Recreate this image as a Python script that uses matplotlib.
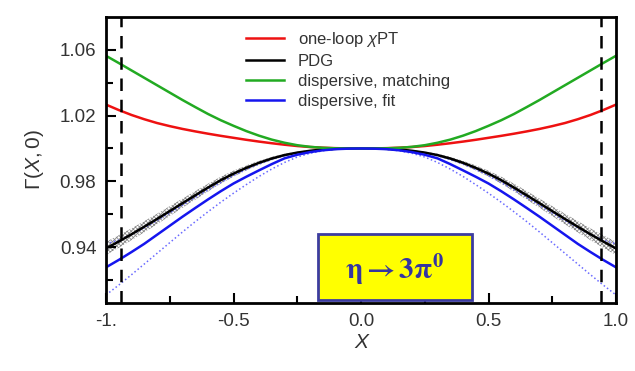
import numpy as np
import matplotlib.pyplot as plt
from matplotlib.patches import Rectangle

plt.rcParams['font.family'] = ['Liberation Sans', 'DejaVu Sans']
plt.rcParams['mathtext.fontset'] = 'custom'
plt.rcParams['mathtext.rm'] = 'Liberation Sans'
plt.rcParams['mathtext.it'] = 'Liberation Sans:italic'
plt.rcParams['hatch.linewidth'] = 0.6

# curves are symmetric in X, values read for X >= 0
X_half = [0.0, 0.05, 0.1, 0.15, 0.2, 0.25, 0.3, 0.35, 0.4, 0.45, 0.5,
          0.55, 0.6, 0.65, 0.7, 0.75, 0.8, 0.85, 0.9, 0.95, 1.0]

# one-loop chiPT
chpt_half = [1.0, 1.00005, 1.0002, 1.0005, 1.0009, 1.0015, 1.0023, 1.0032, 1.0042, 1.0053, 1.0065,
             1.0077, 1.0090, 1.0104, 1.0119, 1.0136, 1.0155, 1.0178, 1.0204, 1.0234, 1.0267]
# PDG central value and half width of its band
pdg_half = [1.0, 1.0, 0.9998, 0.9994, 0.9986, 0.9975, 0.9960, 0.9939, 0.9913, 0.9882, 0.9847,
            0.9807, 0.9762, 0.9715, 0.9667, 0.9619, 0.9571, 0.9524, 0.9478, 0.9434, 0.9392]
pdg_err_half = [0.0, 0.0, 0.0001, 0.0002, 0.0004, 0.0006, 0.0008, 0.0010, 0.0012, 0.0015, 0.0018,
                0.0021, 0.0024, 0.0026, 0.0028, 0.0030, 0.0032, 0.0034, 0.0036, 0.0038, 0.0040]
# dispersive, matching
match_half = [1.0, 1.0, 1.0001, 1.0004, 1.0010, 1.0020, 1.0035, 1.0054, 1.0078, 1.0106, 1.0138,
              1.0172, 1.0210, 1.0252, 1.0295, 1.0340, 1.0385, 1.0430, 1.0475, 1.0520, 1.0564]
# dispersive, fit: central value and dotted error band
fit_half = [1.0, 0.9999, 0.9996, 0.9989, 0.9978, 0.9962, 0.9940, 0.9905, 0.9867, 0.9828, 0.9787,
            0.9740, 0.9690, 0.9638, 0.9585, 0.9530, 0.9475, 0.9420, 0.9370, 0.9322, 0.9277]
fit_hi_half = [1.0, 0.9999, 0.9997, 0.9993, 0.9985, 0.9973, 0.9956, 0.9933, 0.9905, 0.9872, 0.9835,
               0.9793, 0.9748, 0.9702, 0.9655, 0.9608, 0.9562, 0.9518, 0.9477, 0.9442, 0.9420]
fit_lo_half = [1.0, 0.9999, 0.9995, 0.9986, 0.9971, 0.9948, 0.9915, 0.9875, 0.9830, 0.9780, 0.9728,
               0.9673, 0.9615, 0.9555, 0.9492, 0.9427, 0.9362, 0.9297, 0.9232, 0.9169, 0.9109]

x_edge = 0.943


def mirror(v, sign=1):
    v = np.asarray(v)
    return np.concatenate([sign * v[::-1], v[1:]])


X = mirror(X_half, -1)
chpt = mirror(chpt_half)
pdg = mirror(pdg_half)
pdg_err = mirror(pdg_err_half)
match = mirror(match_half)
fit = mirror(fit_half)
fit_hi = mirror(fit_hi_half)
fit_lo = mirror(fit_lo_half)

fig = plt.figure(figsize=(6.35, 3.71), dpi=100)
ax = fig.add_axes([106/635, 68/371, 510/635, 286/371])

ax.fill_between(X, pdg - pdg_err, pdg + pdg_err, facecolor='none', edgecolor='#8a8a8a',
                hatch='xxxxxxxx', linewidth=0)
ax.plot(X, fit_hi, ':', color='#6a6aff', lw=1.1)
ax.plot(X, fit_lo, ':', color='#6a6aff', lw=1.1)
ax.plot(X, chpt, color='#ee1111', lw=1.8, label=r'one-loop $\chi$PT')
ax.plot(X, pdg, color='black', lw=1.8, label='PDG')
ax.plot(X, match, color='#22aa22', lw=1.8, label='dispersive, matching')
ax.plot(X, fit, color='#1515ee', lw=1.8, label='dispersive, fit')

for xv in (-x_edge, x_edge):
    ax.axvline(xv, color='black', lw=1.8, dashes=(5, 3.5))

ax.set_xlim(-1, 1)
ax.set_ylim(0.906, 1.08)
ax.set_xticks([-1, -0.5, 0, 0.5, 1])
ax.set_xticklabels(['-1.', '-0.5', '0.0', '0.5', '1.0'])
ax.set_xticks([-0.75, -0.25, 0.25, 0.75], minor=True)
ax.set_yticks([0.94, 0.98, 1.02, 1.06])
ax.set_yticks([0.92, 0.96, 1.00, 1.04], minor=True)
ax.tick_params(which='both', direction='in', top=False, right=False,
               labelsize=13.5, colors='black', labelcolor='#333333', width=1.5)
ax.tick_params(which='major', length=7, pad=7)
ax.tick_params(which='minor', length=5)
for s in ax.spines.values():
    s.set_linewidth(2)
ax.set_xlabel('X', fontsize=15, style='italic', color='#333333', labelpad=2)
ax.set_ylabel(r'$\Gamma(X,0)$', fontsize=15, color='#333333', labelpad=10)

leg = ax.legend(loc='upper left', bbox_to_anchor=(246/635, 1-30/371),
                bbox_transform=fig.transFigure, frameon=False, fontsize=12,
                handlelength=2.3, handletextpad=0.8, labelspacing=0.3,
                borderpad=0, borderaxespad=0)
for t in leg.get_texts():
    t.set_color('#333333')

ax.add_patch(Rectangle((0.416, 0.012), 0.301, 0.229, transform=ax.transAxes,
                       facecolor='#ffff00', edgecolor='#3c3ca0', lw=2, zorder=5))
ax.text(0.5665, 0.118, r'$\mathbf{\eta{\rightarrow}3\pi^{0}}$', transform=ax.transAxes,
        ha='center', va='center', fontsize=21, color='#3535a0',
        math_fontfamily='stix', zorder=6)

fig.savefig('out.png', dpi=100)
